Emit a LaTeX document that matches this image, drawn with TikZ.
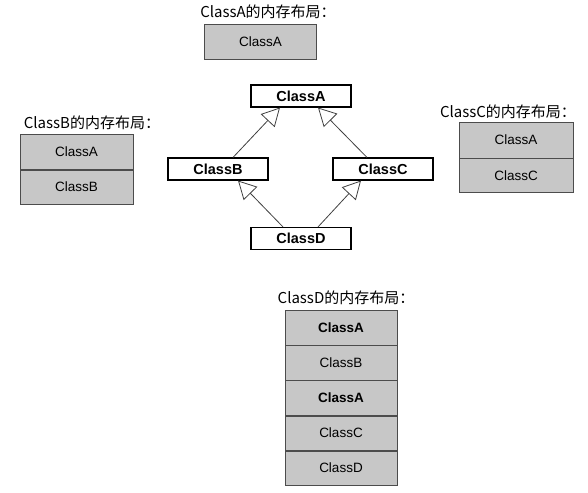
\documentclass[tikz,border=0pt]{standalone}
\usepackage{fontspec}
\setmainfont{Liberation Sans}
\newfontfamily\cjk{Noto Sans CJK SC}
\usetikzlibrary{arrows.meta}
\begin{document}
\begin{tikzpicture}[x=1pt,y=-1pt,
  title/.style={font=\cjk\fontsize{15}{17}\selectfont, inner sep=0pt},
  mem/.style={draw=black!70, fill=black!22, line width=0.6pt, minimum width=112pt, inner sep=0pt, font=\fontsize{13.5}{15}\selectfont},
  cls/.style={draw=black, fill=white, line width=1.1pt, minimum width=100pt, minimum height=22pt, inner sep=0pt, font=\bfseries\fontsize{14.5}{16}\selectfont},
  inh/.style={draw=black!75, line width=0.8pt, -{Triangle[open, length=18pt, width=19pt]}}]
\useasboundingbox (0,0) rectangle (588,492);
% ClassA layout
\node[title] (ta) at (268,12) {ClassA的内存布局：};
\node[mem, minimum height=35pt] (ma) at (260.5,41.5) {ClassA};
% ClassB layout
\node[title] (tb) at (92,123) {ClassB的内存布局：};
\node[mem, minimum height=35pt, minimum width=113pt] (mb1) at (76.5,152) {ClassA};
\node[mem, minimum height=34pt, minimum width=113pt, anchor=north] (mb2) at (mb1.south) {ClassB};
% ClassC layout
\node[title] (tc) at (508,112) {ClassC的内存布局：};
\node[mem, minimum height=36pt, minimum width=114pt] (mc1) at (516,140) {ClassA};
\node[mem, minimum height=34pt, minimum width=114pt, anchor=north] (mc2) at (mc1.south) {ClassC};
% class diagram
\node[cls] (A) at (301,96) {ClassA};
\node[cls] (B) at (218,169) {ClassB};
\node[cls] (C) at (383,169) {ClassC};
\node[cls] (D) at (301,238.5) {ClassD};
\draw[inh] (B.north -| 233,0) -- (A.south -| 280,0);
\draw[inh] (C.north -| 367,0) -- (A.south -| 318,0);
\draw[inh] (D.north -| 283,0) -- (B.south -| 238,0);
\draw[inh] (D.north -| 318,0) -- (C.south -| 361,0);
% ClassD layout
\node[title] (td) at (346,298) {ClassD的内存布局：};
\node[mem, minimum height=35pt, font=\bfseries\fontsize{13.5}{15}\selectfont] (md1) at (341,327.5) {ClassA};
\node[mem, minimum height=34.5pt, anchor=north] (md2) at (md1.south) {ClassB};
\node[mem, minimum height=34.5pt, anchor=north, font=\bfseries\fontsize{13.5}{15}\selectfont] (md3) at (md2.south) {ClassA};
\node[mem, minimum height=34.5pt, anchor=north] (md4) at (md3.south) {ClassC};
\node[mem, minimum height=34.5pt, anchor=north] (md5) at (md4.south) {ClassD};
\end{tikzpicture}
\end{document}
